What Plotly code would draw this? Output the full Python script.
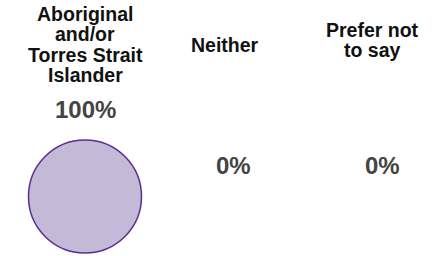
import plotly.graph_objects as go

categories = ["Aboriginal<br>and/or<br>Torres Strait<br>Islander", "Neither", "Prefer not<br>to say"]
values = [100, 0, 0]
labels = ["100%", "0%", "0%"]

W, H = 436, 256
col_px = 148.5          # pixel spacing between columns
first_px = 85.0         # pixel centre of first column
x0 = -first_px / col_px
x1 = x0 + W / col_px

xs = list(range(len(categories)))

fig = go.Figure()
fig.add_trace(go.Scatter(
    x=xs, y=[196.5] * len(xs),
    mode="markers",
    marker=dict(size=values, sizemode="diameter", sizeref=100 / 113,
                color="#c5b9d8", opacity=1, line=dict(color="#5a2d91", width=1.5)),
    hoverinfo="skip", showlegend=False,
))

FONT = "Arial, Liberation Sans, sans-serif"
annotations = []
header_shift = [0, -9, -10]
header_mid = [44.5, 45, 39.75]
line_gap = 20.4
for i, cat in enumerate(categories):
    lines = cat.split("<br>")
    n = len(lines)
    for j, ln in enumerate(lines):
        yc = header_mid[i] + (j - (n - 1) / 2) * line_gap
        annotations.append(dict(
            x=xs[i], y=yc, xref="x", yref="y", text=ln, showarrow=False,
            xanchor="center", yanchor="middle", xshift=header_shift[i],
            font=dict(family=FONT, size=19.5, color="#111111", weight="bold"),
        ))
for i, lab in enumerate(labels):
    r = values[i] / 100 * 113 / 2
    yc = 196.5 - r - 31 if values[i] > 0 else 165.5
    annotations.append(dict(
        x=xs[i], y=yc, xref="x", yref="y", text=lab, showarrow=False,
        xanchor="center", yanchor="middle",
        font=dict(family=FONT, size=24, color="#444444", weight="bold"),
    ))

fig.update_layout(
    width=W, height=H, margin=dict(l=0, r=0, t=0, b=0),
    paper_bgcolor="white", plot_bgcolor="white",
    xaxis=dict(range=[x0, x1], visible=False, fixedrange=True),
    yaxis=dict(range=[H, 0], visible=False, fixedrange=True),
    annotations=annotations,
)
fig.write_html("out.html", config={"displayModeBar": False},
               post_script="document.body.style.margin='0';")
